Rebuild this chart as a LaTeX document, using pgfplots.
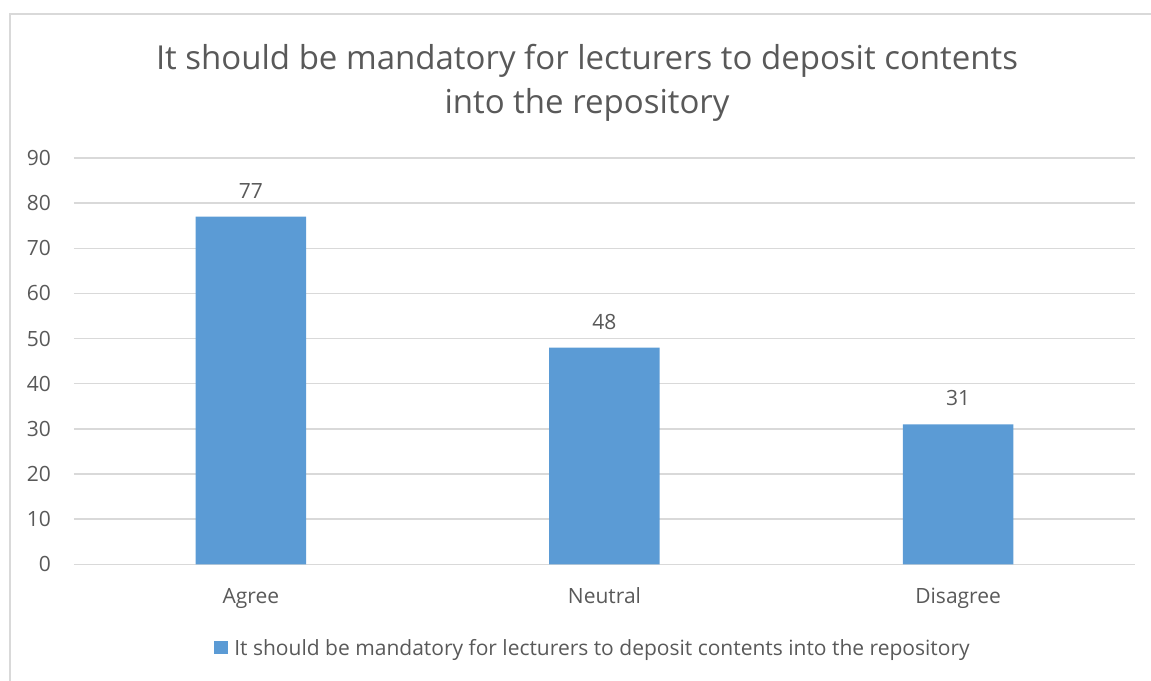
\documentclass[border=0pt]{standalone}
\usepackage{pgfplots}
\pgfplotsset{compat=1.18}
\usepackage{fontspec}
\setmainfont{Open Sans}
\definecolor{barblue}{HTML}{5B9BD5}
\definecolor{gridgray}{HTML}{D9D9D9}
\definecolor{txt}{HTML}{595959}
\begin{document}
\begin{tikzpicture}
\useasboundingbox (-74pt,-115.7pt) rectangle (1077pt,564.3pt);
% chart frame (only left and top edges are visible)
\draw[gridgray, line width=1.5pt] (-64pt,-140pt) -- (-64pt,550.3pt) -- (1100pt,550.3pt);
\begin{axis}[
  at={(0pt,0pt)}, anchor=south west,
  scale only axis, width=1061pt, height=406.3pt,
  ybar, bar width=110.5pt,
  xmin=-0.5, xmax=2.5, ymin=0, ymax=90,
  xtick=data, xticklabels={Agree,Neutral,Disagree},
  ytick={0,10,...,90},
  ymajorgrids, major grid style={gridgray, line width=1.5pt},
  axis line style={draw=none}, major tick length=0pt,
  /pgf/number format/assume math mode=true,
  tick label style={font=\fontsize{21}{25}\selectfont, text=txt},
  yticklabel style={anchor=east, inner sep=0pt, xshift=-23pt},
  xticklabel style={anchor=base, inner sep=0pt, yshift=-38.7pt},
  nodes near coords,
  nodes near coords style={font=\fontsize{21}{25}\selectfont, text=txt, anchor=south, inner sep=0pt, yshift=18pt},
  legend style={at={(0.4892,-0.206)}, anchor=center, draw=none, fill=none,
    font=\fontsize{21}{25}\selectfont, text=txt},
  legend image code/.code={\fill[barblue] (0pt,-6.5pt) rectangle (14pt,7pt);},
]
\addplot[fill=barblue, draw=none] coordinates {(0,77) (1,48) (2,31)};
\legend{\hspace{4pt}It should be mandatory for lecturers to deposit contents into the repository}
\end{axis}
\node[anchor=base, font=\fontsize{33}{40}\selectfont, text=txt] at (513pt,494.3pt) {It should be mandatory for lecturers to deposit contents};
\node[anchor=base, font=\fontsize{33}{40}\selectfont, text=txt] at (513pt,450.3pt) {into the repository};
\end{tikzpicture}
\end{document}
